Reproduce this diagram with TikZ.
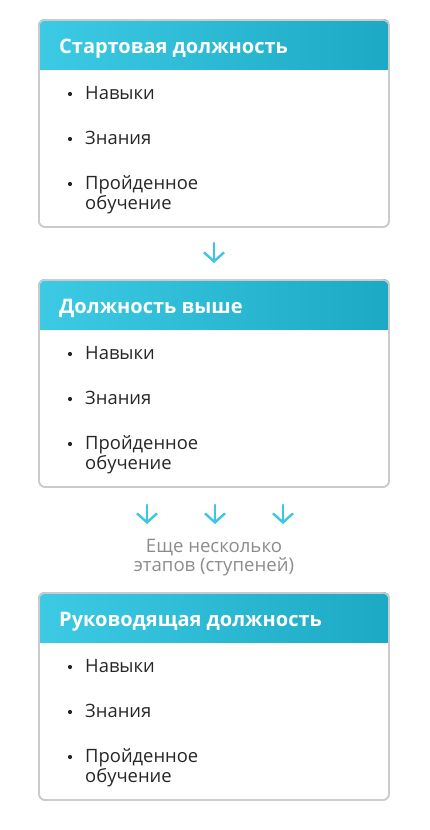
\documentclass[tikz,border=0pt]{standalone}
\usepackage{fontspec}
\setmainfont{Open Sans}
\usetikzlibrary{arrows.meta}
\definecolor{hdleft}{HTML}{3CCAE4}
\definecolor{hdright}{HTML}{1CA9C3}
\definecolor{frame}{HTML}{CBCBCB}
\definecolor{ink}{HTML}{262626}
\definecolor{note}{HTML}{8C8C8C}
\definecolor{flowc}{HTML}{3CC6E2}
\tikzset{
  stagebox/.style={draw=frame, line width=1.6pt, rounded corners=6pt, minimum width=350pt, minimum height=207pt, inner sep=0pt},
  title/.style={anchor=base west, inner sep=0pt, text=white, font=\fontsize{20}{22}\selectfont\bfseries},
  item/.style={anchor=base west, inner sep=0pt, text=ink, font=\fontsize{18.4}{20}\selectfont, align=left},
  dot/.style={circle, fill=ink, inner sep=0pt, minimum size=4.2pt},
  flow/.style={-{Straight Barb[length=9pt,width=20pt]}, line width=2.4pt, draw=flowc, line cap=round},
}
\begin{document}
\begin{tikzpicture}[x=1pt,y=-1pt]
			%%%%% START %%%%%
			\useasboundingbox (0,0) rectangle (430,830);
			
			\foreach \name/\top/\head in {start/20/Стартовая должность, higher/280/Должность выше, lead/593/Руководящая должность}{
				\node[stagebox] (\name) at (214,\top+103.5) {};
				\begin{scope}
					\clip[rounded corners=6pt] (\name.north west) rectangle (\name.south east);
					\shade[left color=hdleft, right color=hdright] (\name.north west) rectangle (389,\top+49);
				\end{scope}
				\node[stagebox] at (\name) {};
				\node[title] (\name-head) at (59,\top+33) {\head};
				
				\node[item] (\name-skills) at (85,\top+79) {Навыки};
				\node[item] (\name-know) at (85,\top+124) {Знания};
				% base of a two-line node is its last line
				\node[item] (\name-train) at (85,\top+189) {Пройденное\\обучение};
				\node[dot] at (70,\top+74) {};
				\node[dot] at (70,\top+119) {};
				\node[dot] at (70,\top+164) {};
			}
			
			%% arrow between first boxes
			\coordinate (s1) at (214,243);
			\coordinate (e1) at (214,263);
			\draw[flow] (s1) -- (e1);
			
			%% several steps
			\foreach \i/\x in {1/147,2/215,3/283}{
				\coordinate (ms\i) at (\x,505);
				\coordinate (me\i) at (\x,524);
				\draw[flow] (ms\i) -- (me\i);
			}
			\node[anchor=base, inner sep=0pt, text=note, font=\fontsize{18.6}{19}\selectfont, align=center] (steps) at (214,571.5) {Еще несколько\\этапов (ступеней)};
			%%%%% END %%%%%
\end{tikzpicture}
\end{document}
